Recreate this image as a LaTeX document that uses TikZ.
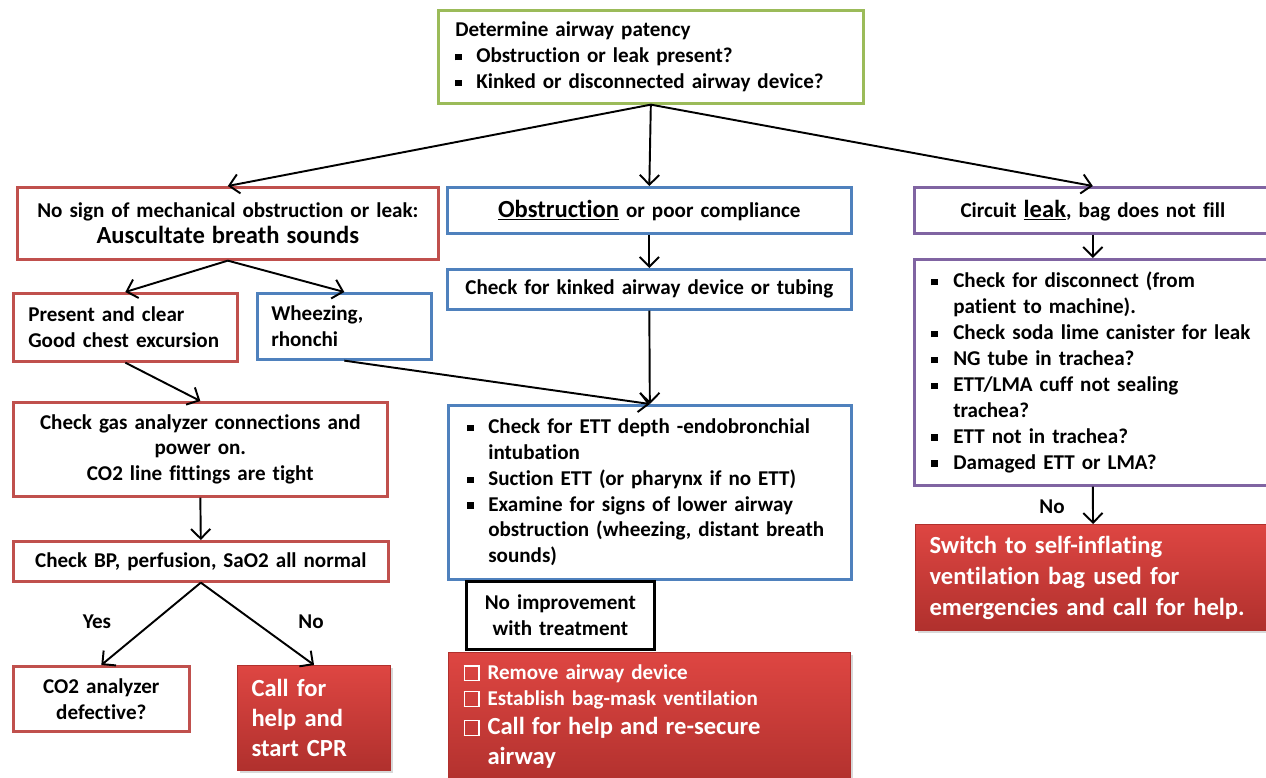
\documentclass[tikz,border=0pt]{standalone}
\usepackage{fontspec}
\setmainfont{Carlito}[Ligatures=NoCommon]
\usetikzlibrary{arrows.meta,shadows}
\definecolor{grn}{HTML}{9BBB59}
\definecolor{rd}{HTML}{C0504D}
\definecolor{blu}{HTML}{4F81BD}
\definecolor{prp}{HTML}{8064A2}
\definecolor{alarmhi}{HTML}{DE4642}
\definecolor{alarmlo}{HTML}{B0302D}
\newlength\px
\setlength\px{0.02cm}
\newcommand{\sqb}{\rule[1.3pt]{3.6pt}{3.6pt}}
\newcommand{\chk}{{\setlength{\fboxsep}{0pt}\setlength{\fboxrule}{1pt}\fbox{\rule{0pt}{7.5pt}\hspace{7.5pt}}}}
\newcommand{\itm}[2]{\makebox[#1\px][l]{#2}}
\newcommand{\ind}[1]{\hspace*{#1\px}}
\newcommand{\bigtxt}{\fontsize{14}{17}\selectfont}

\begin{document}
\begin{tikzpicture}[x=0.02cm,y=-0.02cm]
  \tikzset{
    base/.style={draw, line width=1.5pt, fill=white, anchor=north west,
      font=\fontsize{12}{14.74}\selectfont\bfseries, inner ysep=0pt},
    grnbox/.style={base, draw=grn},
    rdbox/.style={base, draw=rd, drop shadow={opacity=0.25,shadow xshift=1.2pt,shadow yshift=-1.2pt}},
    blubox/.style={base, draw=blu},
    prpbox/.style={base, draw=prp},
    alarm/.style={base, draw=alarmlo, line width=0.6pt, top color=alarmhi, bottom color=alarmlo,
      text=white, drop shadow={opacity=0.3,shadow xshift=1.2pt,shadow yshift=-1.2pt}},
    lbl/.style={font=\fontsize{12}{14.74}\selectfont\bfseries},
    arr/.style={-{Straight Barb[length=5.5pt,width=11pt]}, line width=1.1pt}
  }
  \useasboundingbox[fill=white] (0,0) rectangle (1266,777);

  % top question
  \node[grnbox, align=left, inner xsep=17\px, text width=391\px, minimum height=93\px] (top) at (437,9)
    {Determine airway patency\\
     \itm{21}{\sqb}Obstruction or leak present?\\
     \itm{21}{\sqb}Kinked or disconnected airway device?};

  % three branches
  \node[rdbox, align=center, inner xsep=8\px, text width=405\px, minimum height=72\px] (nosign) at (16,186)
    {No sign of mechanical obstruction or leak:\\{\bigtxt Auscultate breath sounds}};
  \node[blubox, align=center, inner xsep=8\px, text width=388\px, minimum height=46\px] (obstr) at (446,186)
    {{\bigtxt\underline{Obstruction}} or poor compliance};
  \node[prpbox, align=center, inner xsep=8\px, text width=341\px, minimum height=46\px] (leak) at (913,186)
    {Circuit {\bigtxt\underline{leak}}, bag does not fill};

  % left column
  \node[rdbox, align=left, inner xsep=15\px, text width=194\px, minimum height=68\px] (present) at (12,292)
    {Present and clear\\Good chest excursion};
  \node[blubox, align=left, inner xsep=14\px, text width=146\px, minimum height=66\px] (wheeze) at (256,292)
    {Wheezing,\\rhonchi};
  \node[rdbox, align=center, inner xsep=8\px, text width=358\px, minimum height=94\px] (gas) at (12,401)
    {Check gas analyzer connections and\\power on.\\CO2 line fittings are tight};
  \node[rdbox, align=center, inner xsep=8\px, text width=359\px, minimum height=40\px] (bp) at (12,540)
    {Check BP, perfusion, SaO2 all normal};
  \node[rdbox, align=center, inner xsep=8\px, text width=160\px, minimum height=65\px] (co2) at (12,665)
    {CO2 analyzer\\defective?};
  \node[alarm, align=left, inner xsep=14\px, text width=125\px, minimum height=105\px,
    font=\bigtxt\bfseries] (cpr) at (237,665)
    {Call for\\help and\\start CPR};
  \node[lbl] (yes) at (97,622) {Yes};
  \node[lbl] (nocpr) at (311,622) {No};

  % middle column
  \node[blubox, align=center, inner xsep=8\px, text width=388\px, minimum height=40\px] (kink) at (446,268)
    {Check for kinked airway device or tubing};
  \node[blubox, align=left, inner xsep=19\px, text width=365\px, minimum height=174\px] (ett) at (447,404)
    {\itm{21}{\sqb}Check for ETT depth -endobronchial\\
     \ind{21}intubation\\
     \itm{21}{\sqb}Suction ETT (or pharynx if no ETT)\\
     \itm{21}{\sqb}Examine for signs of lower airway\\
     \ind{21}obstruction (wheezing, distant breath\\
     \ind{21}sounds)};
  \node[base, align=center, inner xsep=8\px, text width=172\px, minimum height=68\px] (noimp) at (465,580)
    {No improvement\\with treatment};
  \node[alarm, align=left, inner xsep=15\px, text width=372\px, minimum height=136\px] (remove) at (448,652)
    {\itm{24}{\chk}Remove airway device\\
     \itm{24}{\chk}Establish bag-mask ventilation\\[3\px]
     {\bigtxt\itm{24}{\chk}Call for help and re-secure}\\[4\px]
     {\bigtxt\ind{24}airway}\par\vspace{8\px}};

  % right column
  \node[prpbox, align=left, inner xsep=17\px, text width=323\px, minimum height=226\px] (check) at (913,258)
    {\itm{22}{\sqb}Check for disconnect (from\\
     \ind{22}patient to machine).\\
     \itm{22}{\sqb}Check soda lime canister for leak\\
     \itm{22}{\sqb}NG tube in trachea?\\
     \itm{22}{\sqb}ETT/LMA cuff not sealing\\
     \ind{22}trachea?\\
     \itm{22}{\sqb}ETT not in trachea?\\
     \itm{22}{\sqb}Damaged ETT or LMA?};
  \node[alarm, align=left, inner xsep=14\px, text width=327\px, minimum height=106\px,
    font=\fontsize{14}{17.6}\selectfont\bfseries] (switch) at (915,524)
    {Switch to self-inflating\\ventilation bag used for\\emergencies and call for help.};
  \node[lbl] (noswitch) at (1052,507) {No};

  % connectors
  \draw[arr] (top.south) -- (nosign.north);
  \draw[arr] (top.south) -- (obstr.north);
  \draw[arr] (top.south) -- (leak.north);
  \draw[arr] (nosign.south) -- (present.north);
  \draw[arr] (nosign.south) -- (wheeze.north);
  \draw[arr] (present.south) -- (gas.north);
  \draw[arr] (gas.south) -- (bp.north);
  \draw[arr] (bp.south) -- (co2.north);
  \draw[arr] (bp.south) -- (cpr.north);
  \draw[arr] (obstr.south) -- (kink.north);
  \draw[arr] (kink.south) -- (ett.north);
  \draw[arr] (wheeze.south) -- (ett.north);
  \draw[arr] (leak.south) -- (check.north);
  \draw[arr] (check.south) -- (switch.north);
\end{tikzpicture}
\end{document}
